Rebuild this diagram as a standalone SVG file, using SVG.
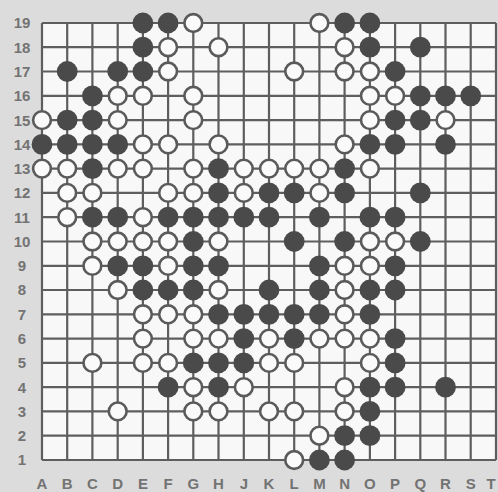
<svg xmlns="http://www.w3.org/2000/svg" width="498" height="492" viewBox="0 0 498 492">
<style>
.grid{stroke:#5e5e5e;stroke-width:2.2;fill:none}
.b{fill:#4a4a4a}
.w{fill:#fafafa;stroke:#5a5a5a;stroke-width:2.6}
.lbl{font-family:"Liberation Sans",Arial,sans-serif;font-size:15px;font-weight:bold;fill:#737373;text-anchor:middle}
</style>
<rect width="498" height="492" fill="#dcdcdc"/>
<rect x="42" y="23" width="454" height="437" fill="#f8f8f8"/>
<g id="grid" class="grid">
<path d="M42 23V460M67.2 23V460M92.4 23V460M117.7 23V460M142.9 23V460M168.1 23V460M193.3 23V460M218.5 23V460M243.8 23V460M269 23V460M294.2 23V460M319.4 23V460M344.6 23V460M369.9 23V460M395.1 23V460M420.3 23V460M445.5 23V460M470.7 23V460M496 23V460"/>
<path d="M42 23H496M42 47.2H496M42 71.5H496M42 95.8H496M42 120.1H496M42 144.4H496M42 168.6H496M42 192.9H496M42 217.2H496M42 241.5H496M42 265.8H496M42 290H496M42 314.3H496M42 338.6H496M42 362.9H496M42 387.2H496M42 411.4H496M42 435.7H496M42 460H496"/>
</g>
<g id="black-stones">
<circle class="b" cx="142.9" cy="23" r="10.4"/><circle class="b" cx="168.1" cy="23" r="10.4"/><circle class="b" cx="344.6" cy="23" r="10.4"/><circle class="b" cx="369.9" cy="23" r="10.4"/>
<circle class="b" cx="142.9" cy="47.2" r="10.4"/><circle class="b" cx="369.9" cy="47.2" r="10.4"/><circle class="b" cx="420.3" cy="47.2" r="10.4"/>
<circle class="b" cx="67.2" cy="71.5" r="10.4"/><circle class="b" cx="117.7" cy="71.5" r="10.4"/><circle class="b" cx="142.9" cy="71.5" r="10.4"/><circle class="b" cx="395.1" cy="71.5" r="10.4"/>
<circle class="b" cx="92.4" cy="95.8" r="10.4"/><circle class="b" cx="420.3" cy="95.8" r="10.4"/><circle class="b" cx="445.5" cy="95.8" r="10.4"/><circle class="b" cx="470.7" cy="95.8" r="10.4"/>
<circle class="b" cx="67.2" cy="120.1" r="10.4"/><circle class="b" cx="92.4" cy="120.1" r="10.4"/><circle class="b" cx="395.1" cy="120.1" r="10.4"/><circle class="b" cx="420.3" cy="120.1" r="10.4"/>
<circle class="b" cx="42" cy="144.4" r="10.4"/><circle class="b" cx="67.2" cy="144.4" r="10.4"/><circle class="b" cx="92.4" cy="144.4" r="10.4"/><circle class="b" cx="117.7" cy="144.4" r="10.4"/><circle class="b" cx="369.9" cy="144.4" r="10.4"/><circle class="b" cx="395.1" cy="144.4" r="10.4"/><circle class="b" cx="445.5" cy="144.4" r="10.4"/>
<circle class="b" cx="92.4" cy="168.6" r="10.4"/><circle class="b" cx="218.5" cy="168.6" r="10.4"/><circle class="b" cx="344.6" cy="168.6" r="10.4"/>
<circle class="b" cx="218.5" cy="192.9" r="10.4"/><circle class="b" cx="269" cy="192.9" r="10.4"/><circle class="b" cx="294.2" cy="192.9" r="10.4"/><circle class="b" cx="344.6" cy="192.9" r="10.4"/><circle class="b" cx="420.3" cy="192.9" r="10.4"/>
<circle class="b" cx="92.4" cy="217.2" r="10.4"/><circle class="b" cx="117.7" cy="217.2" r="10.4"/><circle class="b" cx="168.1" cy="217.2" r="10.4"/><circle class="b" cx="193.3" cy="217.2" r="10.4"/><circle class="b" cx="218.5" cy="217.2" r="10.4"/><circle class="b" cx="243.8" cy="217.2" r="10.4"/><circle class="b" cx="269" cy="217.2" r="10.4"/><circle class="b" cx="319.4" cy="217.2" r="10.4"/><circle class="b" cx="369.9" cy="217.2" r="10.4"/><circle class="b" cx="395.1" cy="217.2" r="10.4"/>
<circle class="b" cx="193.3" cy="241.5" r="10.4"/><circle class="b" cx="294.2" cy="241.5" r="10.4"/><circle class="b" cx="344.6" cy="241.5" r="10.4"/><circle class="b" cx="420.3" cy="241.5" r="10.4"/>
<circle class="b" cx="117.7" cy="265.8" r="10.4"/><circle class="b" cx="142.9" cy="265.8" r="10.4"/><circle class="b" cx="193.3" cy="265.8" r="10.4"/><circle class="b" cx="218.5" cy="265.8" r="10.4"/><circle class="b" cx="319.4" cy="265.8" r="10.4"/><circle class="b" cx="395.1" cy="265.8" r="10.4"/>
<circle class="b" cx="142.9" cy="290" r="10.4"/><circle class="b" cx="168.1" cy="290" r="10.4"/><circle class="b" cx="193.3" cy="290" r="10.4"/><circle class="b" cx="269" cy="290" r="10.4"/><circle class="b" cx="319.4" cy="290" r="10.4"/><circle class="b" cx="369.9" cy="290" r="10.4"/><circle class="b" cx="395.1" cy="290" r="10.4"/>
<circle class="b" cx="218.5" cy="314.3" r="10.4"/><circle class="b" cx="243.8" cy="314.3" r="10.4"/><circle class="b" cx="269" cy="314.3" r="10.4"/><circle class="b" cx="294.2" cy="314.3" r="10.4"/><circle class="b" cx="319.4" cy="314.3" r="10.4"/><circle class="b" cx="369.9" cy="314.3" r="10.4"/>
<circle class="b" cx="243.8" cy="338.6" r="10.4"/><circle class="b" cx="294.2" cy="338.6" r="10.4"/><circle class="b" cx="395.1" cy="338.6" r="10.4"/>
<circle class="b" cx="193.3" cy="362.9" r="10.4"/><circle class="b" cx="218.5" cy="362.9" r="10.4"/><circle class="b" cx="243.8" cy="362.9" r="10.4"/><circle class="b" cx="395.1" cy="362.9" r="10.4"/>
<circle class="b" cx="168.1" cy="387.2" r="10.4"/><circle class="b" cx="218.5" cy="387.2" r="10.4"/><circle class="b" cx="369.9" cy="387.2" r="10.4"/><circle class="b" cx="395.1" cy="387.2" r="10.4"/><circle class="b" cx="445.5" cy="387.2" r="10.4"/>
<circle class="b" cx="369.9" cy="411.4" r="10.4"/>
<circle class="b" cx="344.6" cy="435.7" r="10.4"/><circle class="b" cx="369.9" cy="435.7" r="10.4"/>
<circle class="b" cx="319.4" cy="460" r="10.4"/><circle class="b" cx="344.6" cy="460" r="10.4"/>
</g>
<g id="white-stones">
<circle class="w" cx="193.3" cy="23" r="8.9"/><circle class="w" cx="319.4" cy="23" r="8.9"/>
<circle class="w" cx="168.1" cy="47.2" r="8.9"/><circle class="w" cx="218.5" cy="47.2" r="8.9"/><circle class="w" cx="344.6" cy="47.2" r="8.9"/>
<circle class="w" cx="168.1" cy="71.5" r="8.9"/><circle class="w" cx="294.2" cy="71.5" r="8.9"/><circle class="w" cx="344.6" cy="71.5" r="8.9"/><circle class="w" cx="369.9" cy="71.5" r="8.9"/>
<circle class="w" cx="117.7" cy="95.8" r="8.9"/><circle class="w" cx="142.9" cy="95.8" r="8.9"/><circle class="w" cx="193.3" cy="95.8" r="8.9"/><circle class="w" cx="369.9" cy="95.8" r="8.9"/><circle class="w" cx="395.1" cy="95.8" r="8.9"/>
<circle class="w" cx="42" cy="120.1" r="8.9"/><circle class="w" cx="117.7" cy="120.1" r="8.9"/><circle class="w" cx="193.3" cy="120.1" r="8.9"/><circle class="w" cx="369.9" cy="120.1" r="8.9"/><circle class="w" cx="445.5" cy="120.1" r="8.9"/>
<circle class="w" cx="142.9" cy="144.4" r="8.9"/><circle class="w" cx="168.1" cy="144.4" r="8.9"/><circle class="w" cx="218.5" cy="144.4" r="8.9"/><circle class="w" cx="344.6" cy="144.4" r="8.9"/>
<circle class="w" cx="42" cy="168.6" r="8.9"/><circle class="w" cx="67.2" cy="168.6" r="8.9"/><circle class="w" cx="117.7" cy="168.6" r="8.9"/><circle class="w" cx="142.9" cy="168.6" r="8.9"/><circle class="w" cx="193.3" cy="168.6" r="8.9"/><circle class="w" cx="243.8" cy="168.6" r="8.9"/><circle class="w" cx="269" cy="168.6" r="8.9"/><circle class="w" cx="294.2" cy="168.6" r="8.9"/><circle class="w" cx="319.4" cy="168.6" r="8.9"/><circle class="w" cx="369.9" cy="168.6" r="8.9"/>
<circle class="w" cx="67.2" cy="192.9" r="8.9"/><circle class="w" cx="92.4" cy="192.9" r="8.9"/><circle class="w" cx="168.1" cy="192.9" r="8.9"/><circle class="w" cx="193.3" cy="192.9" r="8.9"/><circle class="w" cx="243.8" cy="192.9" r="8.9"/><circle class="w" cx="319.4" cy="192.9" r="8.9"/>
<circle class="w" cx="67.2" cy="217.2" r="8.9"/><circle class="w" cx="142.9" cy="217.2" r="8.9"/>
<circle class="w" cx="92.4" cy="241.5" r="8.9"/><circle class="w" cx="117.7" cy="241.5" r="8.9"/><circle class="w" cx="142.9" cy="241.5" r="8.9"/><circle class="w" cx="168.1" cy="241.5" r="8.9"/><circle class="w" cx="218.5" cy="241.5" r="8.9"/><circle class="w" cx="369.9" cy="241.5" r="8.9"/><circle class="w" cx="395.1" cy="241.5" r="8.9"/>
<circle class="w" cx="92.4" cy="265.8" r="8.9"/><circle class="w" cx="168.1" cy="265.8" r="8.9"/><circle class="w" cx="344.6" cy="265.8" r="8.9"/><circle class="w" cx="369.9" cy="265.8" r="8.9"/>
<circle class="w" cx="117.7" cy="290" r="8.9"/><circle class="w" cx="218.5" cy="290" r="8.9"/><circle class="w" cx="344.6" cy="290" r="8.9"/>
<circle class="w" cx="142.9" cy="314.3" r="8.9"/><circle class="w" cx="168.1" cy="314.3" r="8.9"/><circle class="w" cx="193.3" cy="314.3" r="8.9"/><circle class="w" cx="344.6" cy="314.3" r="8.9"/>
<circle class="w" cx="142.9" cy="338.6" r="8.9"/><circle class="w" cx="193.3" cy="338.6" r="8.9"/><circle class="w" cx="218.5" cy="338.6" r="8.9"/><circle class="w" cx="269" cy="338.6" r="8.9"/><circle class="w" cx="319.4" cy="338.6" r="8.9"/><circle class="w" cx="344.6" cy="338.6" r="8.9"/><circle class="w" cx="369.9" cy="338.6" r="8.9"/>
<circle class="w" cx="92.4" cy="362.9" r="8.9"/><circle class="w" cx="142.9" cy="362.9" r="8.9"/><circle class="w" cx="168.1" cy="362.9" r="8.9"/><circle class="w" cx="269" cy="362.9" r="8.9"/><circle class="w" cx="294.2" cy="362.9" r="8.9"/><circle class="w" cx="369.9" cy="362.9" r="8.9"/>
<circle class="w" cx="193.3" cy="387.2" r="8.9"/><circle class="w" cx="243.8" cy="387.2" r="8.9"/><circle class="w" cx="344.6" cy="387.2" r="8.9"/>
<circle class="w" cx="117.7" cy="411.4" r="8.9"/><circle class="w" cx="193.3" cy="411.4" r="8.9"/><circle class="w" cx="218.5" cy="411.4" r="8.9"/><circle class="w" cx="269" cy="411.4" r="8.9"/><circle class="w" cx="294.2" cy="411.4" r="8.9"/><circle class="w" cx="344.6" cy="411.4" r="8.9"/>
<circle class="w" cx="319.4" cy="435.7" r="8.9"/>
<circle class="w" cx="294.2" cy="460" r="8.9"/>
</g>
<g id="row-labels" class="lbl">
<text x="22" y="28.4">19</text><text x="22" y="52.6">18</text><text x="22" y="76.9">17</text><text x="22" y="101.2">16</text><text x="22" y="125.5">15</text><text x="22" y="149.8">14</text><text x="22" y="174">13</text><text x="22" y="198.3">12</text><text x="22" y="222.6">11</text><text x="22" y="246.9">10</text><text x="22" y="271.2">9</text><text x="22" y="295.4">8</text><text x="22" y="319.7">7</text><text x="22" y="344">6</text><text x="22" y="368.3">5</text><text x="22" y="392.6">4</text><text x="22" y="416.8">3</text><text x="22" y="441.1">2</text><text x="22" y="465.4">1</text>
</g>
<g id="col-labels" class="lbl">
<text x="42" y="489">A</text><text x="67.2" y="489">B</text><text x="92.4" y="489">C</text><text x="117.7" y="489">D</text><text x="142.9" y="489">E</text><text x="168.1" y="489">F</text><text x="193.3" y="489">G</text><text x="218.5" y="489">H</text><text x="243.8" y="489">J</text><text x="269" y="489">K</text><text x="294.2" y="489">L</text><text x="319.4" y="489">M</text><text x="344.6" y="489">N</text><text x="369.9" y="489">O</text><text x="395.1" y="489">P</text><text x="420.3" y="489">Q</text><text x="445.5" y="489">R</text><text x="470.7" y="489">S</text><text x="491" y="489">T</text>
</g>
</svg>
